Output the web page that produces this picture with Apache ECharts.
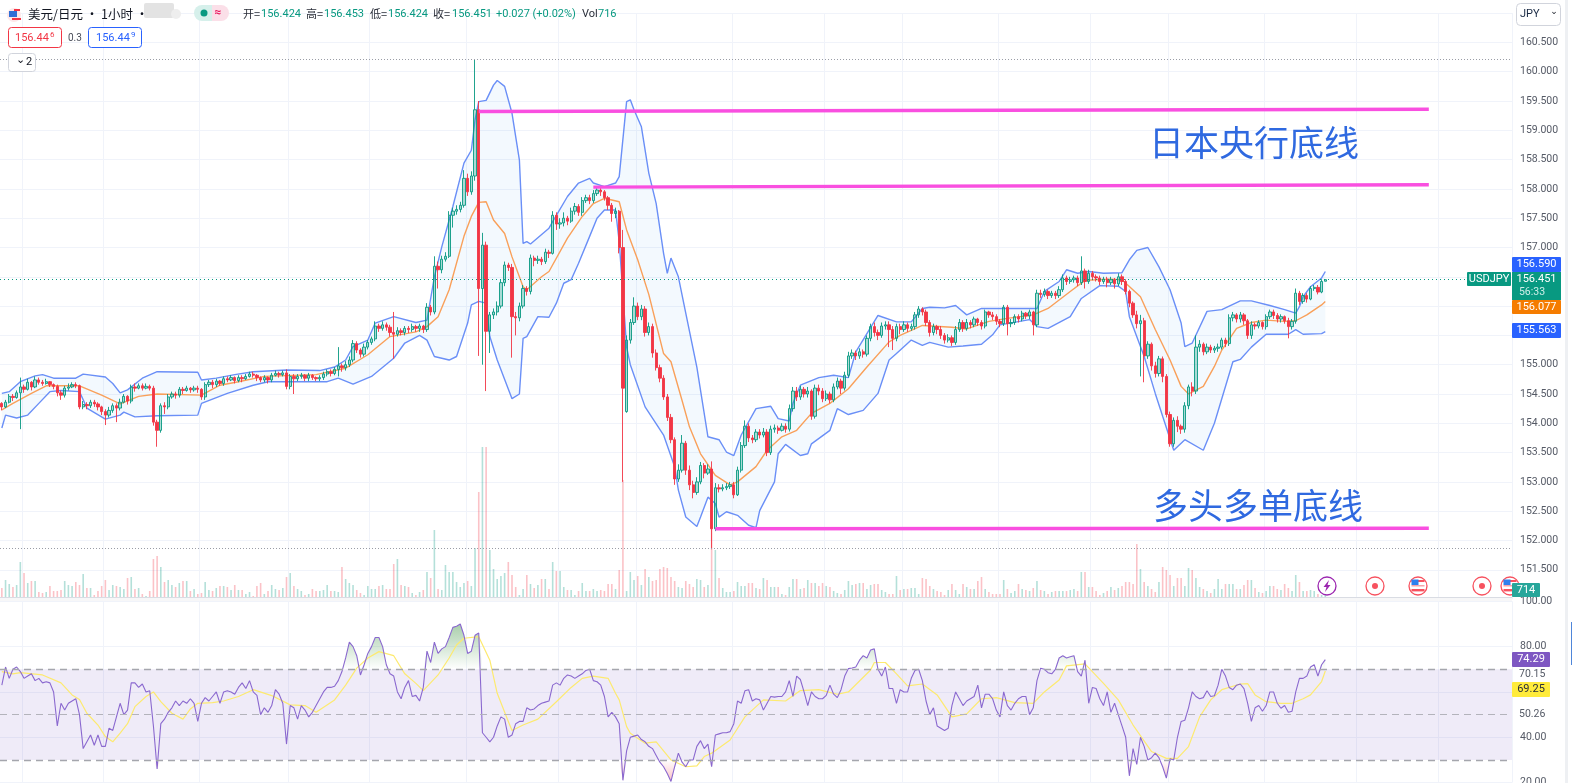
<!DOCTYPE html>
<html><head><meta charset="utf-8"><style>html,body{margin:0;padding:0;background:#fff;overflow:hidden}#c{width:1572px;height:783px}</style>
<script src="https://cdn.jsdelivr.net/npm/echarts@6/dist/echarts.min.js"></script></head><body><div id="c"></div>
<script>
const closes=[154.28,154.36,154.46,154.44,154.52,154.62,154.58,154.70,154.62,154.74,
154.70,154.68,154.71,154.66,154.63,154.52,154.48,154.60,154.62,154.66,
154.64,154.28,154.32,154.30,154.36,154.33,154.28,154.20,154.14,154.22,
154.30,154.26,154.36,154.46,154.38,154.62,154.60,154.64,154.60,154.63,
154.60,154.02,153.88,154.30,154.28,154.45,154.50,154.48,154.58,154.56,
154.60,154.57,154.60,154.58,154.45,154.66,154.70,154.66,154.72,154.68,
154.76,154.74,154.78,154.73,154.78,154.76,154.80,154.84,154.82,154.78,
154.74,154.78,154.74,154.82,154.85,154.83,154.86,154.63,154.80,154.76,
154.80,154.82,154.77,154.82,154.78,154.76,154.78,154.84,154.88,154.85,
154.92,154.98,154.95,155.00,155.08,155.36,155.25,155.18,155.30,155.38,
155.44,155.66,155.62,155.68,155.64,155.55,155.52,155.58,155.55,155.62,
155.60,155.65,155.62,155.66,155.60,155.98,155.90,156.68,156.62,156.80,
156.85,157.55,157.62,157.65,157.72,158.18,157.95,158.22,159.35,156.30,
157.04,155.57,155.85,155.90,156.00,156.40,156.70,156.66,155.82,155.80,
156.00,156.30,156.25,156.82,156.78,156.80,156.76,156.92,156.90,157.55,
157.40,157.42,157.50,157.45,157.62,157.70,157.60,157.80,157.85,157.80,
157.92,157.98,157.95,157.85,157.72,157.58,157.62,157.00,154.60,155.42,
155.72,156.00,155.82,155.95,155.55,155.65,155.20,154.95,154.77,154.45,
154.10,153.72,153.05,153.20,153.66,153.20,152.95,152.82,153.00,153.28,
153.15,153.22,152.20,152.90,152.88,152.90,152.92,152.95,152.78,153.20,
153.62,153.95,153.75,153.72,153.85,153.80,153.85,153.50,153.90,153.92,
153.88,153.95,153.90,154.25,154.55,154.45,154.58,154.50,154.55,154.12,
154.60,154.55,154.42,154.50,154.40,154.62,154.72,154.60,154.82,155.15,
155.20,155.15,155.22,155.18,155.45,155.65,155.55,155.50,155.66,155.68,
155.60,155.45,155.65,155.60,155.68,155.62,155.65,155.85,155.95,155.90,
155.72,155.55,155.65,155.60,155.50,155.42,155.46,155.38,155.60,155.72,
155.62,155.72,155.68,155.78,155.72,155.66,155.90,155.85,155.82,155.74,
155.70,155.98,155.70,155.72,155.82,155.78,155.88,155.83,155.90,155.68,
156.22,156.20,156.25,156.18,156.22,156.18,156.28,156.48,156.42,156.45,
156.48,156.40,156.60,156.42,156.56,156.50,156.48,156.42,156.46,156.40,
156.45,156.38,156.50,156.42,156.25,156.05,155.85,155.70,155.75,155.15,
155.35,154.98,154.85,155.10,154.80,154.15,153.65,154.05,153.95,153.90,
154.30,154.62,154.55,155.30,155.35,155.22,155.30,155.25,155.28,155.30,
155.42,155.36,155.80,155.85,155.78,155.85,155.75,155.50,155.68,155.66,
155.72,155.65,155.82,155.90,155.84,155.78,155.82,155.75,155.65,155.74,
156.22,156.08,156.18,156.12,156.30,156.32,156.24,156.42,156.451];
const opens=[154.34,154.28,154.36,154.46,154.44,154.52,154.62,154.58,154.70,154.62,
154.74,154.70,154.68,154.71,154.66,154.63,154.52,154.48,154.60,154.62,
154.66,154.64,154.28,154.32,154.30,154.36,154.33,154.28,154.20,154.14,
154.22,154.30,154.26,154.36,154.46,154.38,154.62,154.60,154.64,154.60,
154.63,154.60,154.02,153.88,154.30,154.28,154.45,154.50,154.48,154.58,
154.56,154.60,154.57,154.60,154.58,154.45,154.66,154.70,154.66,154.72,
154.68,154.76,154.74,154.78,154.73,154.78,154.76,154.80,154.84,154.82,
154.78,154.74,154.78,154.74,154.82,154.85,154.83,154.86,154.63,154.80,
154.76,154.80,154.82,154.77,154.82,154.78,154.76,154.78,154.84,154.88,
154.85,154.92,154.98,154.95,155.00,155.08,155.36,155.25,155.18,155.30,
155.38,155.44,155.66,155.62,155.68,155.64,155.55,155.52,155.58,155.55,
155.62,155.60,155.65,155.62,155.66,155.60,155.98,155.90,156.68,156.62,
156.80,156.85,157.55,157.62,157.65,157.72,158.18,157.95,158.22,159.35,
156.30,157.04,155.57,155.85,155.90,156.00,156.40,156.70,156.66,155.82,
155.80,156.00,156.30,156.25,156.82,156.78,156.80,156.76,156.92,156.90,
157.55,157.40,157.42,157.50,157.45,157.62,157.70,157.60,157.80,157.85,
157.80,157.92,157.98,157.95,157.85,157.72,157.58,157.62,157.00,154.20,
155.42,155.72,156.00,155.82,155.95,155.55,155.65,155.20,154.95,154.77,
154.45,154.10,153.72,153.05,153.20,153.66,153.20,152.95,152.82,153.00,
153.28,153.15,153.22,152.20,152.90,152.88,152.90,152.92,152.95,152.78,
153.20,153.62,153.95,153.75,153.72,153.85,153.80,153.85,153.50,153.90,
153.92,153.88,153.95,153.90,154.25,154.55,154.45,154.58,154.50,154.55,
154.12,154.60,154.55,154.42,154.50,154.40,154.62,154.72,154.60,154.82,
155.15,155.20,155.15,155.22,155.18,155.45,155.65,155.55,155.50,155.66,
155.68,155.60,155.45,155.65,155.60,155.68,155.62,155.65,155.85,155.95,
155.90,155.72,155.55,155.65,155.60,155.50,155.42,155.46,155.38,155.60,
155.72,155.62,155.72,155.68,155.78,155.72,155.66,155.90,155.85,155.82,
155.74,155.70,155.98,155.70,155.72,155.82,155.78,155.88,155.83,155.90,
155.68,156.22,156.20,156.25,156.18,156.22,156.18,156.28,156.48,156.42,
156.45,156.48,156.40,156.60,156.42,156.56,156.50,156.48,156.42,156.46,
156.40,156.45,156.38,156.50,156.42,156.25,156.05,155.85,155.70,155.75,
155.15,155.35,154.98,154.85,155.10,154.80,154.15,153.65,154.05,153.95,
153.90,154.30,154.62,154.55,155.30,155.35,155.22,155.30,155.25,155.28,
155.30,155.42,155.36,155.80,155.85,155.78,155.85,155.75,155.50,155.68,
155.66,155.72,155.65,155.82,155.90,155.84,155.78,155.82,155.75,155.65,
155.74,156.22,156.08,156.18,156.12,156.30,156.32,156.24,156.424];
const highs=[154.36,154.40,154.50,154.50,154.56,154.78,154.66,154.76,154.72,154.80,
154.78,154.74,154.76,154.72,154.68,154.66,154.56,154.64,154.68,154.70,
154.70,154.66,154.38,154.36,154.40,154.40,154.36,154.30,154.24,154.28,
154.34,154.34,154.42,154.50,154.48,154.66,154.68,154.68,154.68,154.68,
154.66,154.64,154.06,154.34,154.36,154.50,154.54,154.54,154.62,154.62,
154.64,154.62,154.64,154.64,154.60,154.70,154.74,154.74,154.76,154.74,
154.80,154.80,154.82,154.80,154.82,154.82,154.84,154.88,154.88,154.84,
154.80,154.82,154.80,154.86,154.90,154.88,154.90,154.92,154.84,154.84,
154.84,154.86,154.84,154.86,154.84,154.80,154.82,154.88,154.92,154.92,
154.96,155.30,155.02,155.06,155.14,155.42,155.40,155.28,155.36,155.42,
155.48,155.74,155.70,155.74,155.72,155.68,155.90,155.64,155.62,155.66,
155.66,155.70,155.68,155.70,155.68,156.05,156.02,156.85,156.76,156.86,
156.92,157.62,157.68,157.72,157.78,158.32,158.26,158.30,160.20,159.50,
157.25,157.10,155.90,155.96,156.08,156.46,156.76,156.74,156.72,155.90,
156.06,156.36,156.34,156.88,156.86,156.86,156.84,156.98,156.96,157.62,
157.60,157.50,157.60,157.54,157.68,157.76,157.74,157.86,157.90,157.90,
157.98,158.04,158.02,157.98,157.88,157.76,157.68,157.64,157.30,155.50,
155.78,156.15,156.06,156.02,156.00,155.72,155.70,155.26,155.00,154.82,
154.50,154.16,153.76,153.30,153.80,153.70,153.28,153.02,153.08,153.34,
153.32,153.30,153.35,152.98,152.96,152.96,152.98,153.00,153.00,153.26,
153.68,154.05,154.00,153.80,153.90,153.90,153.92,153.90,153.96,153.98,
153.96,154.00,154.00,154.32,154.62,154.62,154.64,154.62,154.62,154.58,
154.66,154.66,154.60,154.56,154.54,154.68,154.78,154.76,154.88,155.22,
155.26,155.24,155.28,155.26,155.50,155.70,155.72,155.60,155.72,155.74,
155.74,155.66,155.70,155.70,155.74,155.72,155.70,155.90,156.00,155.98,
155.94,155.76,155.70,155.68,155.66,155.54,155.52,155.50,155.66,155.78,
155.76,155.78,155.76,155.82,155.80,155.76,155.94,155.92,155.90,155.86,
155.78,156.02,156.02,155.78,155.86,155.86,155.92,155.90,155.94,155.92,
156.28,156.28,156.30,156.28,156.26,156.26,156.34,156.54,156.52,156.50,
156.52,156.52,156.85,156.64,156.62,156.60,156.54,156.52,156.50,156.50,
156.50,156.48,156.56,156.54,156.46,156.28,156.08,155.92,155.85,155.80,
155.40,155.38,155.05,155.15,155.14,154.84,154.20,154.10,154.12,153.98,
154.36,154.66,154.70,155.50,155.42,155.38,155.36,155.34,155.32,155.36,
155.46,155.46,155.86,155.90,155.88,155.90,155.88,155.78,155.74,155.72,
155.76,155.74,155.86,155.94,155.94,155.88,155.86,155.84,155.80,155.78,
156.30,156.26,156.22,156.22,156.34,156.36,156.36,156.46,156.453];
const lows=[154.22,154.26,154.34,154.38,154.42,153.90,154.52,154.56,154.56,154.60,
154.66,154.64,154.66,154.62,154.58,154.46,154.40,154.44,154.56,154.60,
154.60,154.24,154.24,154.24,154.26,154.28,154.22,154.14,153.97,154.10,
154.18,154.02,154.22,154.34,154.32,154.34,154.54,154.58,154.56,154.58,
154.56,153.96,153.60,153.84,154.16,154.24,154.42,154.42,154.44,154.50,
154.54,154.52,154.54,154.52,154.40,154.40,154.62,154.60,154.62,154.64,
154.64,154.70,154.72,154.68,154.70,154.70,154.74,154.78,154.78,154.72,
154.70,154.70,154.68,154.70,154.80,154.78,154.80,154.58,154.58,154.50,
154.72,154.76,154.72,154.72,154.74,154.72,154.72,154.74,154.80,154.80,
154.82,154.80,154.88,154.90,154.96,155.04,155.20,155.12,155.14,155.26,
155.34,155.40,155.56,155.58,155.58,155.48,155.10,155.48,155.50,155.50,
155.54,155.56,155.56,155.56,155.54,155.56,155.84,155.86,156.30,156.56,
156.76,156.82,157.34,157.56,157.60,157.68,157.88,157.90,158.14,155.15,
155.00,154.55,155.20,155.78,155.84,155.96,156.34,156.60,155.12,155.50,
155.74,155.96,156.18,156.20,156.68,156.72,156.70,156.72,156.82,156.88,
157.30,157.32,157.36,157.38,157.42,157.56,157.54,157.54,157.76,157.74,
157.76,157.88,157.88,157.80,157.64,157.44,157.50,156.90,153.00,154.18,
155.36,155.68,155.76,155.76,155.48,155.50,155.12,154.90,154.70,154.40,
154.04,153.66,152.95,153.00,153.16,153.12,152.86,152.72,152.78,152.96,
153.06,153.12,151.85,152.16,152.82,152.84,152.86,152.88,152.72,152.76,
153.16,153.58,153.68,153.66,153.68,153.74,153.76,153.44,153.46,153.84,
153.82,153.86,153.84,153.86,154.20,154.38,154.40,154.44,154.44,154.06,
154.08,154.48,154.36,154.38,154.34,154.36,154.58,154.50,154.56,154.78,
155.10,155.08,155.10,155.12,155.14,155.40,155.48,155.42,155.46,155.60,
155.30,155.25,155.40,155.52,155.56,155.56,155.58,155.60,155.80,155.84,
155.66,155.48,155.50,155.52,155.44,155.36,155.38,155.32,155.34,155.56,
155.56,155.58,155.62,155.64,155.66,155.60,155.62,155.80,155.76,155.68,
155.64,155.66,155.50,155.64,155.68,155.72,155.74,155.78,155.78,155.50,
155.64,156.14,156.16,156.12,156.14,156.12,156.14,156.24,156.36,156.38,
156.40,156.34,156.36,156.30,156.38,156.44,156.42,156.36,156.38,156.32,
156.36,156.30,156.34,156.36,156.20,155.98,155.80,155.62,154.80,154.70,
155.10,154.90,154.78,154.80,154.70,154.10,153.60,153.60,153.85,153.82,
153.84,154.24,154.46,154.50,155.22,155.16,155.18,155.20,155.20,155.22,
155.26,155.30,155.32,155.74,155.72,155.72,155.68,155.44,155.44,155.60,
155.62,155.60,155.60,155.78,155.78,155.72,155.72,155.70,155.45,155.60,
155.70,156.02,156.04,156.06,156.10,156.26,156.20,156.22,156.424];
const volumes=[1800,3400,2600,2000,2400,7000,4800,2800,3200,3200,
1000,800,1000,2200,1200,1200,1400,3200,2400,2200,
3000,2400,4600,1800,1800,400,1200,2200,3400,1400,
2400,2200,2000,1600,3800,4000,1600,1800,600,200,
1200,7600,8200,6000,3000,3400,2400,2000,2800,3200,
3200,1200,1600,600,800,3000,1400,1200,1800,2200,
2200,2000,1400,2400,1400,1400,600,1000,200,2200,
2800,600,1200,2400,1600,1400,1800,4000,4800,2200,
1600,1200,400,600,1600,1200,1200,1400,2400,1200,
1200,1000,6000,3600,2800,2400,1400,800,400,2200,
1600,1600,2200,2400,1600,1600,6600,7600,2400,2200,
2000,800,400,1000,1400,5000,3800,13400,1600,1400,
6400,5000,5000,3000,2000,2800,3200,2200,9800,21000,
30000,30000,9400,5600,3600,4200,4800,7000,4400,2000,
400,1600,4400,2600,1800,2400,3600,3600,1600,7000,
5200,5200,2000,1400,1400,400,1200,2800,1200,1200,
1600,1200,1400,1200,2600,2600,1600,5400,23400,1200,
5000,3400,4200,2400,5600,4000,3200,3400,5600,6000,
5800,4000,3200,2000,1800,3200,2600,2000,3600,3400,
2000,2400,14400,9400,3800,1800,1000,1000,1200,3000,
2200,2200,2800,2800,1800,1600,3800,3400,2000,2000,
2000,600,400,2000,3600,3600,1600,1800,3400,2800,
2800,2200,2800,2200,2000,1200,800,600,1400,3200,
2400,2600,2800,2800,1600,2400,2600,2600,1400,1000,
600,600,4200,1400,1600,1600,1800,1800,600,3800,
3600,2200,1600,1200,1000,400,1400,2600,1400,600,
2600,2000,1600,1600,3200,4000,1600,1000,600,600,
600,3400,1600,800,1200,2600,1600,1400,1200,1800,
3200,1400,1200,600,1000,1200,1200,1200,1200,1400,
1600,1200,5000,5000,2000,2000,1200,400,800,1200,
2000,1400,1800,2200,3000,3000,2600,10600,5600,3000,
2200,1600,1000,3000,6000,5400,4400,2200,3800,3800,
2200,5800,5400,3800,2000,1600,1200,800,1600,3600,
1600,2600,2600,2600,1600,1600,2400,3400,3400,1800,
1000,800,1200,2200,2200,1600,1400,2600,1800,1200,
4400,3000,1200,1200,1400,1200,600,400,714];
const rsiValues=[63,71,66,70,71,69,66,67,68,65,
66,64,64.5,64,60,45,55,52,55,56,
57,50,35,38,41,36.5,41,36,36,44,
43,49,55,50,52,64,64,62,63.5,60,
60.5,45,26,46,48,51,53,56,54,56,
55,57,55,47,55,57.5,56,58,60,55,
60,60.5,60,59,62,64,61.5,65,60,58.5,
50,53,51,54,61,59,55,37,54,53,
48,54,52,49,51,54,57,60,62,62,
62.5,65,69,75,82,80,76,67.5,72,77,
80,84,84,80,72,68,67,60,57,62,
65,58,58.5,56,62,78,73,82,77,79,
80,84,88.5,89,90,85,77,78,85,86,
42,40,38,40,45,49,48,40,41,46,
47,47,53,52,52.5,54,55,55.5,56,63,
64,63,66,67.5,67,66,67,68,69.5,70,
65,64.5,63,58,49,51,49,46,21,34,
40,40.5,41,39,38,36,35,32,29,27,
24,20.5,27,33,29,27,30,30,36,38.5,
35,37,27,41,41.5,42,42,42.5,46,56,
55,60.5,61,56,57,56.5,52,55,58,57.7,
58,58,60,65,58,67,65.5,60,54,60,
58,57,57,58.5,63,59,57.5,61,67,70.3,
70.6,71,74,76,75,78.5,79,70,67,71,
61.5,61.5,55,61,60,60,66,69.5,70,65,
56,50,53,45,44,43,44,54,60,57,
54,56,57,58,63,53,59,59,57,52,
49,60,54,52,55,57,58,58,50,53,
65,70.5,70,68.5,68,70,75,76,75,75.5,
76,69,67,74,55,62,61.5,57,54,60,
51,55,50,45,40,23,35,28,40,36,
30,31,33,31,27,22,30.5,30,40,47,
47.5,53,60,58,57,57.5,60.5,58,58.3,63,
70,67,62,61,63,63.5,61.5,55,47,53,
54,51.5,54,60,60,55,52.8,54,51,51.5,
60,66,66,67,71,72,67,72,74.29];
const rsiMaKnots=[[0,69],[3,68],[5,68.5],[11,67.5],[16,64],[19,58.7],[21,56.7],[23,50.6],[26,45.4],[28,40.3],[30,38],[32,41.8],[34,46],[36,53.5],[39,58],[41,60],[43,55.7],[46,50.6],[49,48],[51,52.5],[53,55],[57,55.3],[60,56],[64,58],[68,61],[73,58.4],[78,54.3],[82,54],[85,51],[90,56.5],[93,63],[96,70.5],[99,75],[102,77.8],[106,76],[109,68],[112,63.8],[114,60.6],[118,67.5],[121,75],[123,80.7],[125,83.7],[129,84.4],[132,74],[134,59.4],[137,47],[138,43],[141,45.4],[145,48],[150,55.7],[154,62],[157,66],[160,67],[164,66],[166,59.4],[167,56.5],[169,44.7],[170,41.8],[174,37.4],[177,38],[181,30],[185,27],[188,27.4],[190,31.5],[192,33],[197,38.8],[201,49],[206,56.5],[212,56],[216,60.6],[221,61],[226,59],[229,60],[235,69.7],[236,73],[239,73],[242,68],[245,62.7],[249,63.5],[253,58.7],[257,49],[261,50.3],[265,57],[269,57.5],[274,55.3],[279,55],[282,60],[286,65.3],[288,71.5],[293,72.4],[298,63.8],[302,56.5],[306,45.4],[311,33.7],[315,30.7],[318,30.7],[321,35.9],[324,49],[327,56.5],[330,61],[335,63.5],[337,63.7],[339,58.7],[342,55.7],[346,55],[349,55],[352,57],[354,58.7],[357,64.6],[358,69.25]];
const bbUpper=[[0,154.51],[2,154.54],[5,154.71],[9,154.81],[11,154.83],[14,154.77],[20,154.77],[22,154.84],[28,154.79],[30,154.68],[32,154.52],[34,154.57],[38,154.77],[42,154.88],[53,154.87],[54,154.74],[58,154.77],[63,154.83],[68,154.88],[77,154.91],[86,154.9],[90,154.96],[93,155.08],[95,155.31],[99,155.42],[101,155.71],[106,155.82],[112,155.72],[115,155.76],[117,156.5],[119,157.01],[122,157.7],[125,158.44],[127,158.66],[128,159.18],[129,159.49],[131,159.51],[133,159.77],[134,159.85],[136,159.75],[138,159.29],[140,158.49],[141,157.07],[142,157.1],[143,157.06],[148,157.33],[150,157.55],[153,157.87],[156,158.1],[159,158.18],[160,158.1],[163,158.04],[166,158.1],[167,158.21],[169,159.49],[170,159.52],[171,159.35],[173,159.06],[175,158.27],[177,157.75],[179,156.9],[180,156.56],[181,156.82],[183,156.5],[185,155.88],[188,154.96],[191,153.77],[194,153.72],[196,153.51],[198,153.45],[200,153.8],[204,154.25],[208,154.29],[210,154.08],[213,154.04],[214,154.34],[216,154.65],[221,154.78],[225,154.82],[229,154.78],[231,155.22],[237,155.84],[242,155.73],[246,155.73],[249,155.96],[251,155.98],[255,155.97],[258,156.01],[261,155.85],[265,155.96],[280,155.96],[282,156.25],[286,156.42],[288,156.62],[291,156.56],[294,156.59],[298,156.56],[303,156.57],[305,156.79],[307,156.95],[310,157.0],[313,156.67],[316,156.28],[319,155.71],[320,155.31],[322,155.37],[326,155.91],[330,155.94],[335,156.09],[338,156.09],[343,156.01],[347,155.94],[350,155.88],[351,155.99],[352,156.16],[354,156.33],[357,156.48],[358,156.59]];
const bbLower=[[0,153.92],[1,154.14],[4,154.09],[7,154.14],[10,154.34],[13,154.54],[16,154.56],[21,154.54],[23,154.26],[28,154.07],[32,154.14],[33,154.19],[36,154.11],[42,154.13],[53,154.14],[54,154.34],[61,154.51],[68,154.65],[72,154.71],[88,154.71],[91,154.77],[95,154.67],[100,154.8],[106,155.11],[109,155.37],[113,155.5],[115,155.42],[117,155.14],[121,155.08],[123,155.14],[126,155.71],[127,156.02],[129,156.08],[131,156.05],[132,155.48],[134,155.08],[138,154.42],[140,154.5],[141,155.45],[142,155.48],[145,155.82],[148,155.81],[150,156.05],[152,156.39],[154,156.45],[156,156.73],[159,157.19],[161,157.5],[163,157.64],[166,157.64],[167,157.1],[169,155.3],[170,155.0],[174,154.28],[179,153.8],[182,153.26],[183,152.86],[185,152.4],[188,152.24],[189,152.4],[191,152.74],[193,152.63],[194,152.4],[196,152.49],[199,152.43],[202,152.26],[204,152.22],[205,152.51],[209,153.0],[210,153.48],[212,153.64],[216,153.45],[218,153.48],[219,153.65],[224,153.88],[226,154.25],[229,154.15],[233,154.22],[237,154.51],[240,155.08],[242,155.19],[246,155.42],[249,155.33],[251,155.38],[256,155.3],[260,155.32],[265,155.35],[268,155.51],[270,155.68],[278,155.77],[280,155.65],[283,155.62],[289,155.82],[292,156.13],[297,156.35],[302,156.34],[304,156.25],[305,155.82],[309,155.14],[312,154.51],[314,154.12],[317,153.54],[320,153.72],[325,153.54],[328,154.0],[333,155.05],[335,155.09],[338,155.3],[342,155.52],[348,155.52],[350,155.6],[352,155.52],[357,155.53],[358,155.563]];
const bbMid=[[0,154.23],[3,154.34],[8,154.51],[12,154.64],[21,154.64],[27,154.48],[32,154.33],[37,154.46],[42,154.5],[54,154.48],[59,154.65],[64,154.71],[71,154.8],[85,154.83],[93,154.94],[99,155.17],[105,155.48],[112,155.56],[115,155.65],[118,155.82],[121,156.28],[125,157.19],[127,157.53],[129,157.77],[131,157.78],[133,157.47],[136,157.24],[138,156.84],[141,156.33],[142,156.28],[146,156.5],[148,156.59],[153,157.16],[157,157.53],[160,157.75],[163,157.84],[167,157.78],[169,157.3],[172,156.79],[175,156.2],[179,155.19],[181,155.05],[184,154.39],[186,153.94],[189,153.48],[193,153.11],[197,152.95],[199,153.0],[204,153.26],[207,153.54],[211,153.77],[215,153.88],[219,154.17],[224,154.34],[229,154.59],[234,154.96],[240,155.39],[243,155.5],[249,155.67],[257,155.64],[261,155.61],[267,155.74],[272,155.79],[279,155.85],[283,155.96],[289,156.25],[293,156.44],[300,156.46],[303,156.45],[308,156.16],[312,155.6],[316,155.08],[319,154.63],[321,154.5],[325,154.63],[328,154.97],[330,155.25],[334,155.62],[338,155.72],[342,155.76],[347,155.74],[350,155.75],[353,155.85],[357,156.02],[358,156.077]];
const bojLineA=[[129,159.32],[386,159.36]];
const bojLineB=[[160,158.03],[386,158.07]];
const bullLine=[[193,152.20],[386,152.21]];
const timeGridAt=[6,28,54,78,100,126,151,172,198,223,244,270,295,316,342,367,389];
const categoryCount=409;
const categories=Array.from({length:categoryCount},(_,i)=>String(i));
const priceTickHidden=[161,151];
const rsiTickHidden=[60];

const green='#089981',red='#f23645',ink='#555a66';
const candleData=closes.map((c,i)=>[opens[i],c,lows[i],highs[i]]);
const volumeData=volumes.map((v,i)=>({value:v,itemStyle:{color:closes[i]>=opens[i]?'rgba(8,153,129,0.3)':'rgba(242,54,69,0.3)'}}));
const rsiAbove=rsiValues.map(v=>Math.max(v,70));
const rsiBelow=rsiValues.map(v=>Math.min(v,30));
const noAxis={axisLabel:{show:false},axisTick:{show:false},axisLine:{show:false}};
const vGrid={show:true,interval:i=>timeGridAt.includes(i),lineStyle:{color:'#f0f3fa',width:1}};
const plain=(d,color,w,z)=>({type:'line',data:d,symbol:'none',showSymbol:false,silent:true,lineStyle:{color,width:w},z});

const ttFont='11px Roboto, sans-serif';
function T(text,x,y,fill,font,align,z){return {type:'text',z:z||120,silent:true,style:{text,x,y,fill:fill||ink,font:font||ttFont,align:align||'left',verticalAlign:'middle'}};}
function R(x,y,w,h,fill,extra,z){return {type:'rect',z:z||110,silent:true,shape:Object.assign({x,y,width:w,height:h},extra&&extra.r?{r:extra.r}:{}),style:Object.assign({fill},extra&&extra.style||{})};}
function tag(x,y,w,h,fill,text,color){return [R(x,y,w,h,fill,{r:1}),T(text,x+w/2,y+h/2,color||'#fff','11px Roboto, sans-serif','center')];}
function C(cx,cy,r,fill,stroke,lw,z){return {type:'circle',z:z||105,silent:true,shape:{cx,cy,r},style:{fill,stroke,lineWidth:lw||0}};}
function target(cx){return [C(cx,586,9,'#fff','#f7525f',1.3),C(cx,586,3,'#f7525f')];}
function flag(cx){return [C(cx,586,9,'#fff','#f7525f',1.3),R(cx-6.5,580,13,2,'#f7525f',null,106),R(cx-6.5,589,13,2.4,'#f7525f',null,106),R(cx-6.5,585,13,1.5,'#f7a3a9',null,106),R(cx-6.5,579.5,7,5.5,'#2f80ed',null,107)];}

const gfx=[
 R(0,597,1512,1,'#d9dce3'),R(0,598,1512,3,'#f7f7f8'),
 R(1565,0,3,783,'#eef0f3'),R(1571,622,1,43,'#4f86d9'),
 // legend
 C(14,15,7,'#fde7e9',null,0,120),R(9,11,8,6,'#2f6fd6',null,121),R(12,18,9,2,'#f23645',null,121),R(14,9,6,2,'#f23645',null,121),
 T('美元/日元 · 1小时 ·',28,14,'#131722','12.5px "Noto Sans CJK SC", sans-serif'),
 R(144,3,30,15,'#e3e3e3',{r:2}),C(176,14,5,'#eeeeee',null,0,110),
 R(194,5,18,16,'#d6f0eb',{r:[8,0,0,8]}),R(212,5,17,16,'#fbdfe8',{r:[0,8,8,0]}),C(204,13,3.5,green,null,0,120),T('≈',218,13,'#e91e63','bold 12px Roboto, sans-serif','center'),
 T('开=',243,14,'#2a2e39','11px "Noto Sans CJK SC", sans-serif'),T('156.424',261,14,green),
 T('高=',306,14,'#2a2e39','11px "Noto Sans CJK SC", sans-serif'),T('156.453',324,14,green),
 T('低=',370,14,'#2a2e39','11px "Noto Sans CJK SC", sans-serif'),T('156.424',388,14,green),
 T('收=',433,14,'#2a2e39','11px "Noto Sans CJK SC", sans-serif'),T('156.451',452,14,green),
 T('+0.027 (+0.02%)',496,14,green),T('Vol',582,14,'#2a2e39'),T('716',598,14,green),
 R(8.5,27.5,53,20,'#fff',{r:3,style:{stroke:red,lineWidth:1}}),T('156.44',15,38,red),T('6',50,35,red,'8px Roboto, sans-serif'),
 T('0.3',68,38,'#4a4e5a','10px Roboto, sans-serif'),
 R(88.5,27.5,53,20,'#fff',{r:3,style:{stroke:'#2962ff',lineWidth:1}}),T('156.44',96,38,'#2962ff'),T('9',131,35,'#2962ff','8px Roboto, sans-serif'),
 R(8.5,53.5,27,18,'#fff',{r:3,style:{stroke:'#d1d4dc',lineWidth:1}}),T('⌄',16,60,'#131722','11px "DejaVu Sans", sans-serif'),T('2',26,62,'#131722'),
 // annotations
 T('日本央行底线',1149,143,'#2f69e0','35px "Noto Sans CJK SC", sans-serif'),
 T('多头多单底线',1153,506,'#2f69e0','35px "Noto Sans CJK SC", sans-serif'),
 // top-right currency
 R(1516.5,3.5,44,22,'#fff',{r:4,style:{stroke:'#d1d4dc',lineWidth:1}}),T('JPY',1520,14.5,'#1a2a44','11px Roboto, sans-serif'),T('⌄',1554,11.5,'#131722','9px "DejaVu Sans", sans-serif','center'),
 // price tags
 ...tag(1512,257,49,15,'#2962ff','156.590'),
 R(1512,272,49,28,'#089981'),T('156.451',1536.5,279.5,'#fff','11px Roboto, sans-serif','center'),T('56:33',1532,292,'#cdeee7','10.5px Roboto, sans-serif','center'),
 ...tag(1512,300,49,14,'#f57c00','156.077'),
 ...tag(1512,323,49,15,'#2962ff','155.563'),
 ...tag(1467,272,44,14,'#089981','USDJPY'),
 ...tag(1512,652,38,15,'#7e57c2','74.29'),
 ...tag(1512,682,38,15,'#ffeb3b','69.25','#2a2e39'),
 T('70.15',1519,674,ink,'10.5px Roboto, sans-serif'),T('50.26',1519,714,ink,'10.5px Roboto, sans-serif'),
 // events
 C(1327,586,9,'#fff','#9c27b0',1.3),
 {type:'polygon',z:106,silent:true,shape:{points:[[1329,580],[1323.5,587],[1326.5,587],[1325,592],[1330.5,585],[1327.5,585]]},style:{fill:'#9c27b0'}},
 ...target(1375),...flag(1418),...target(1482),...flag(1510),
 ...tag(1512,583,28,14,'#26a69a','714').map(e=>Object.assign(e,{z:e.z+20}))
];

const option={
 animation:false,backgroundColor:'#fff',
 grid:[{left:0,width:1512,top:13.1,height:586,outerBoundsMode:'none'},{left:0,width:1512,top:437,height:160,outerBoundsMode:'none'},{left:0,width:1512,top:601.3,height:181.3,outerBoundsMode:'none'}],
 xAxis:[
  {type:'category',gridIndex:0,data:categories,...noAxis,splitLine:vGrid},
  {type:'category',gridIndex:1,data:categories,...noAxis,splitLine:{show:false}},
  {type:'category',gridIndex:2,data:categories,...noAxis,splitLine:vGrid}],
 yAxis:[
  {type:'value',gridIndex:0,position:'right',min:151,max:161,interval:0.5,axisLine:{show:false},axisTick:{show:false},
   splitLine:{lineStyle:{color:'#f0f3fa'}},axisLabel:{margin:8,color:ink,fontSize:10.5,fontFamily:'Roboto, sans-serif',formatter:v=>priceTickHidden.includes(v)?'':v.toFixed(3)}},
  {type:'value',gridIndex:1,min:0,max:32000,show:false,splitLine:{show:false}},
  {type:'value',gridIndex:2,position:'right',min:20,max:100,interval:20,axisLine:{show:false},axisTick:{show:false},
   splitLine:{lineStyle:{color:'#f0f3fa'}},axisLabel:{margin:8,color:ink,fontSize:10.5,fontFamily:'Roboto, sans-serif',formatter:v=>rsiTickHidden.includes(v)?'':v.toFixed(2)}}],
 series:[
  {type:'custom',xAxisIndex:0,yAxisIndex:0,silent:true,z:1,clip:false,data:[[0,155]],
   renderItem:(p,api)=>({type:'polygon',shape:{points:bbUpper.concat(bbLower.slice().reverse()).map(k=>api.coord(k))},style:{fill:'rgba(41,150,243,0.055)'}})},
  {type:'bar',xAxisIndex:1,yAxisIndex:1,barWidth:1.6,data:volumeData,silent:true,z:1},
  {...plain(bbUpper,'#6a8ff7',1.4,3),xAxisIndex:0,yAxisIndex:0},
  {...plain(bbLower,'#6a8ff7',1.4,3),xAxisIndex:0,yAxisIndex:0},
  {...plain(bbMid,'#f9a05a',1.4,3),xAxisIndex:0,yAxisIndex:0},
  {type:'candlestick',xAxisIndex:0,yAxisIndex:0,data:candleData,barWidth:2.8,silent:true,z:4,
   itemStyle:{color:'rgba(8,153,129,0.32)',color0:red,borderColor:green,borderColor0:red,borderWidth:0.9},
   markLine:{silent:true,symbol:'none',label:{show:false},animation:false,data:[
    {yAxis:160.217,lineStyle:{color:'#9a9da6',type:[1,2],width:1}},
    {yAxis:151.87,lineStyle:{color:'#9a9da6',type:[1,2],width:1}},
    {yAxis:156.451,lineStyle:{color:green,type:[1,3],width:1}}]}},
  {...plain(bojLineA,'#f94fe0',3.4,6),xAxisIndex:0,yAxisIndex:0},
  {...plain(bojLineB,'#f94fe0',3.4,6),xAxisIndex:0,yAxisIndex:0},
  {...plain(bullLine,'#f94fe0',3.4,6),xAxisIndex:0,yAxisIndex:0},
  {type:'line',xAxisIndex:2,yAxisIndex:2,data:rsiAbove,symbol:'none',silent:true,lineStyle:{width:0},z:2,
   areaStyle:{origin:70,color:new echarts.graphic.LinearGradient(0,0,0,1,[{offset:0,color:'rgba(56,142,60,0.62)'},{offset:1,color:'rgba(56,142,60,0)'}])}},
  {type:'line',xAxisIndex:2,yAxisIndex:2,data:rsiBelow,symbol:'none',silent:true,lineStyle:{width:0},z:2,
   areaStyle:{origin:30,color:new echarts.graphic.LinearGradient(0,1,0,0,[{offset:0,color:'rgba(242,54,69,0.45)'},{offset:1,color:'rgba(242,54,69,0)'}])}},
  {...plain(rsiValues,'#8a68cf',1.1,4),xAxisIndex:2,yAxisIndex:2,
   markArea:{silent:true,itemStyle:{color:'rgba(126,87,194,0.12)'},data:[[{yAxis:30},{yAxis:70}]]},
   markLine:{silent:true,symbol:'none',label:{show:false},animation:false,data:[
    {yAxis:70,lineStyle:{color:'#a5a6ad',type:[7,5],width:1.4}},
    {yAxis:50,lineStyle:{color:'#b3b3bb',type:[7,5],width:1}},
    {yAxis:30,lineStyle:{color:'#a5a6ad',type:[7,5],width:1.4}}]}},
  {...plain(rsiMaKnots,'#fdea6f',1.2,3),xAxisIndex:2,yAxisIndex:2}
 ],
 graphic:{elements:gfx}
};
const chart=echarts.init(document.getElementById('c'),null,{renderer:'canvas'});
chart.setOption(option);
</script></body></html>
